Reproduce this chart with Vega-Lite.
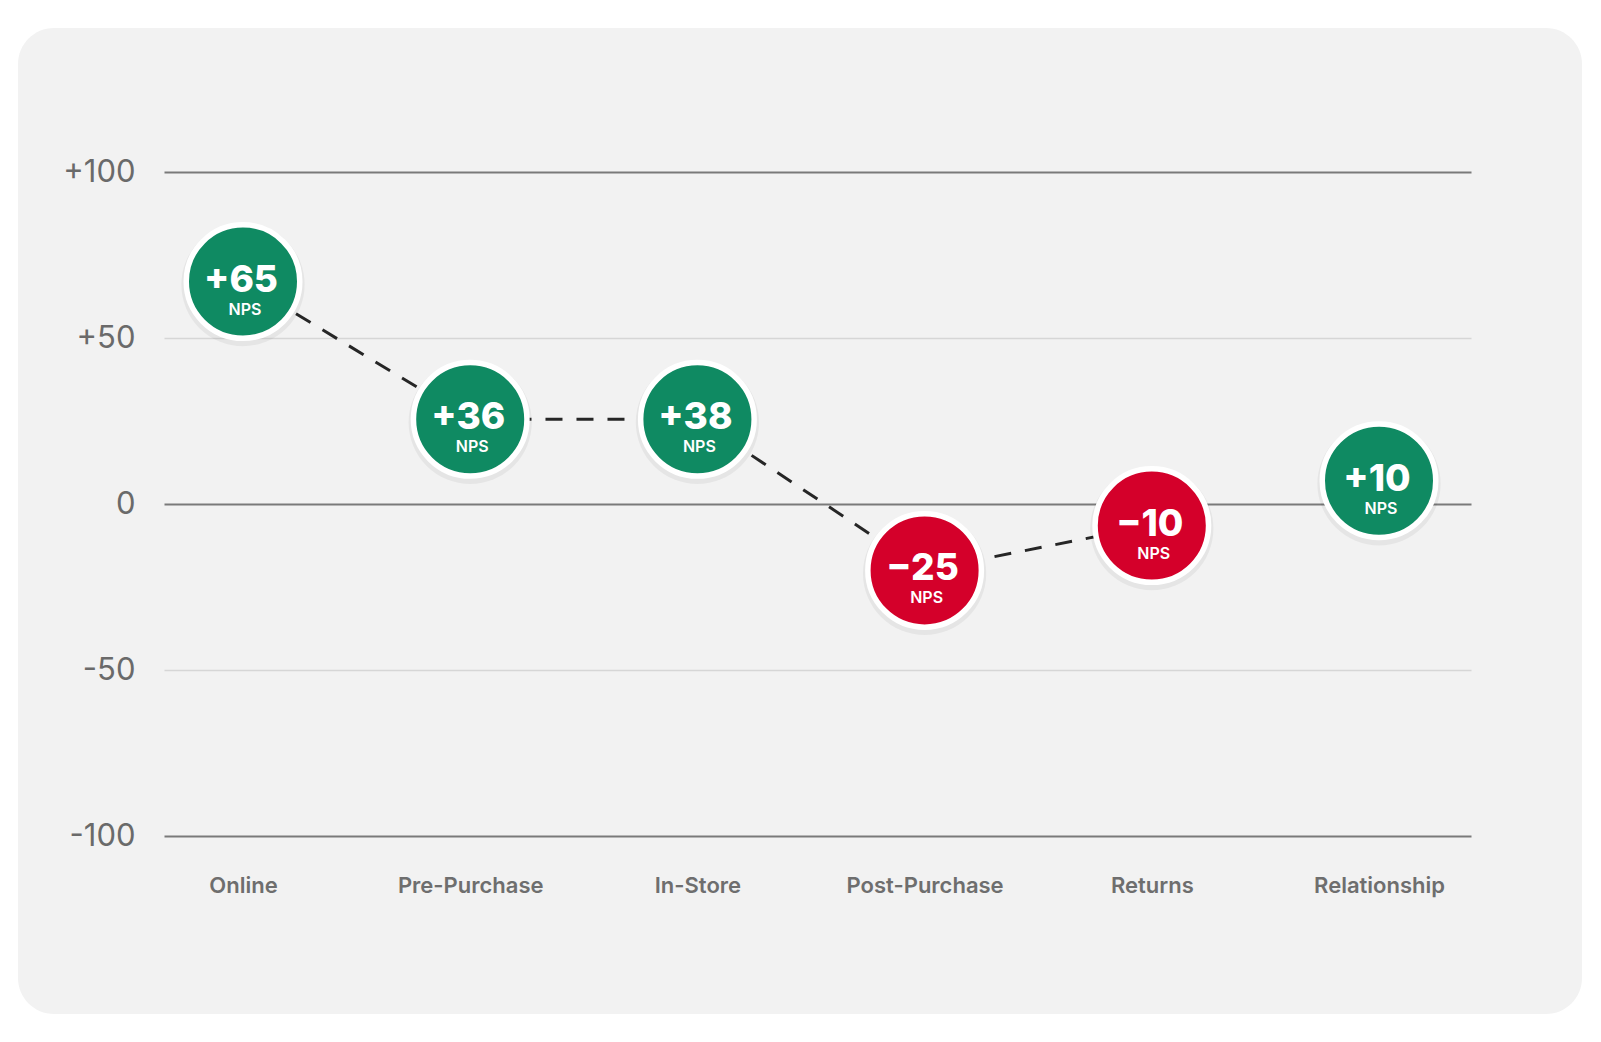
{
  "$schema": "https://vega.github.io/schema/vega-lite/v6.json",
  "width": 1564,
  "height": 986,
  "autosize": {"type": "none"},
  "padding": {"left": 18, "top": 28, "right": 19, "bottom": 28},
  "background": "#ffffff",
  "config": {
    "view": {"fill": "#f2f2f2", "stroke": null, "cornerRadius": 36},
    "font": "Inter"
  },
  "data": {
    "values": [
      {"stage": "Online", "nps": 65, "plotted": 67, "path": "journey"},
      {"stage": "Pre-Purchase", "nps": 36, "plotted": 25.5, "path": "journey"},
      {"stage": "In-Store", "nps": 38, "plotted": 25.5, "path": "journey"},
      {"stage": "Post-Purchase", "nps": -25, "plotted": -20, "path": "journey"},
      {"stage": "Returns", "nps": -10, "plotted": -6.5, "path": "journey"},
      {"stage": "Relationship", "nps": 10, "plotted": 7, "path": "relationship"}
    ]
  },
  "encoding": {
    "x": {
      "field": "stage",
      "type": "nominal",
      "sort": null,
      "scale": {"type": "point", "range": [146, 1453], "padding": 0.3763, "align": 0.462},
      "axis": {
        "orient": "bottom",
        "title": null,
        "offset": -122,
        "domain": false,
        "ticks": false,
        "tickSize": 0,
        "grid": false,
        "labelAngle": 0,
        "labelPadding": 0,
        "labelBaseline": "alphabetic",
        "labelFont": "Inter",
        "labelFontSize": 22,
        "labelFontWeight": 600,
        "labelColor": "#6e6e6e"
      }
    },
    "y": {
      "field": "plotted",
      "type": "quantitative",
      "scale": {"domain": [-100, 100], "range": [808, 144], "nice": false, "zero": false},
      "axis": {
        "orient": "left",
        "title": null,
        "offset": -125,
        "values": [-100, -50, 0, 50, 100],
        "labelExpr": "(datum.value > 0 ? '+' : (datum.value < 0 ? '-' : '')) + abs(datum.value)",
        "domain": false,
        "ticks": false,
        "tickSize": 0,
        "labelPadding": 8,
        "labelFont": "Inter",
        "labelFontSize": 31,
        "labelFontWeight": 400,
        "labelColor": "#6a6a6a",
        "grid": true,
        "gridColor": {"condition": {"test": "datum.value % 100 === 0", "value": "#7a7a7a"}, "value": "#d6d6d6"},
        "gridWidth": {"condition": {"test": "datum.value % 100 === 0", "value": 2.2}, "value": 1.5}
      }
    }
  },
  "layer": [
    {
      "mark": {"type": "line", "stroke": "#262626", "strokeWidth": 3, "strokeDash": [17, 14]},
      "encoding": {
        "detail": {"field": "path", "type": "nominal"},
        "order": {"value": null}
      }
    },
    {
      "mark": {"type": "circle", "size": 15200, "opacity": 0.05, "fill": "#000000", "yOffset": 3},
      "encoding": {}
    },
    {
      "mark": {"type": "circle", "size": 12882, "opacity": 1, "stroke": "#ffffff", "strokeWidth": 5.5},
      "encoding": {
        "fill": {"condition": {"test": "datum.nps >= 0", "value": "#0f8a62"}, "value": "#d4002a"}
      }
    },
    {
      "mark": {"type": "text", "font": "Inter", "fontSize": 37, "fontWeight": 800, "color": "#ffffff", "baseline": "alphabetic", "align": "center", "dy": 10, "dx": -2},
      "encoding": {
        "text": {"field": "nps", "type": "quantitative", "format": "+d"}
      }
    },
    {
      "mark": {"type": "text", "font": "Inter", "fontSize": 16, "fontWeight": 600, "color": "#ffffff", "baseline": "alphabetic", "align": "center", "dy": 33, "dx": 2},
      "encoding": {
        "text": {"value": "NPS"}
      }
    }
  ]
}
